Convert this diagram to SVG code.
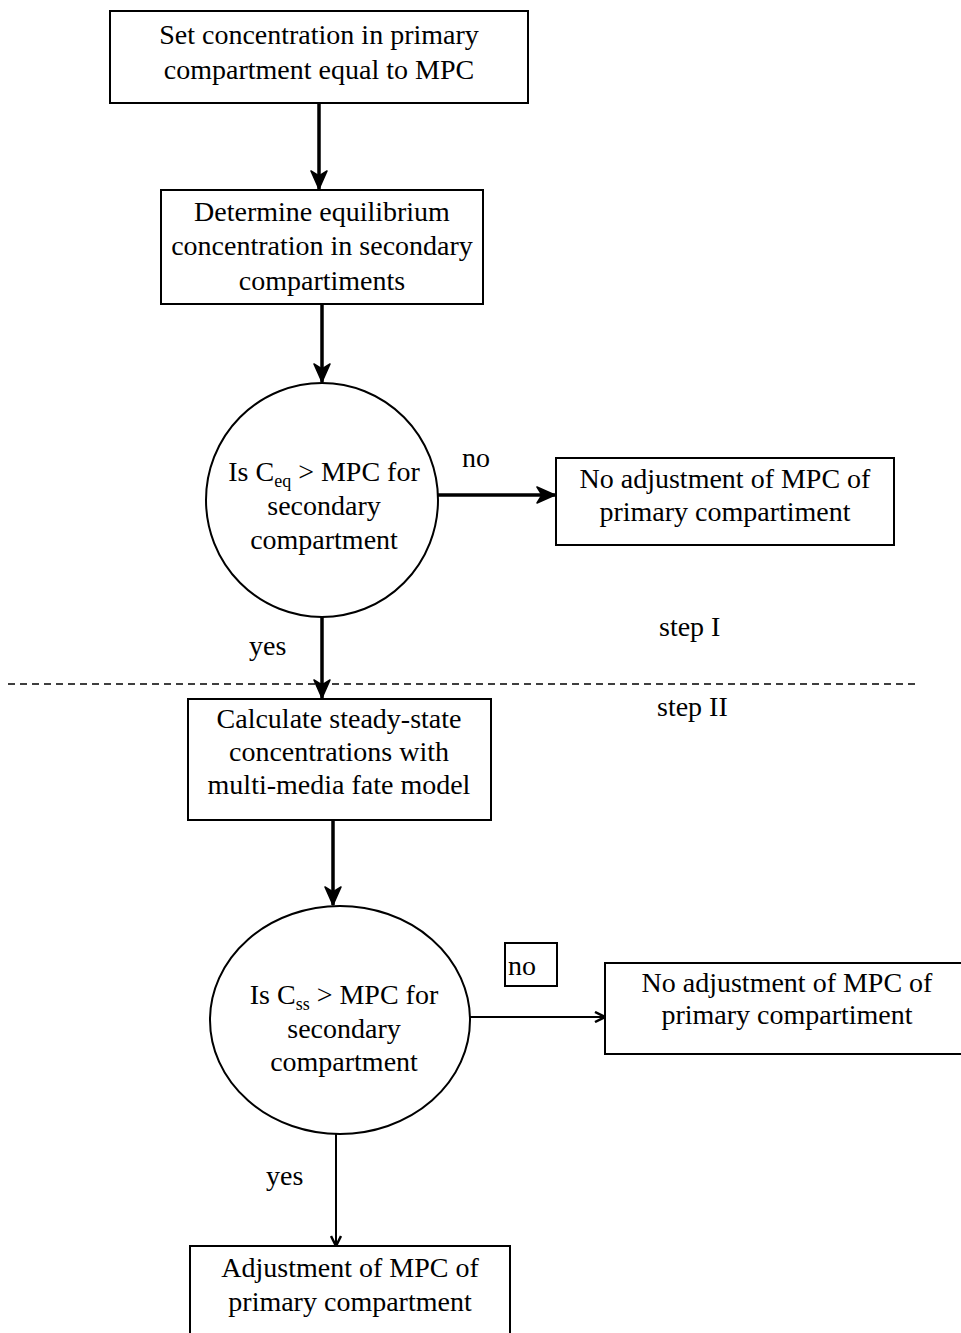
<svg xmlns="http://www.w3.org/2000/svg" width="961" height="1333" viewBox="0 0 961 1333">
<defs>
<marker id="ah" viewBox="0 0 12 12" refX="11" refY="6" markerWidth="12" markerHeight="12" markerUnits="userSpaceOnUse" orient="auto">
<path d="M1,1 L11,6 L1,11" fill="none" stroke="#000" stroke-width="2.5"/>
</marker>
<marker id="ahb" viewBox="0 0 20 20" refX="19" refY="10" markerWidth="20" markerHeight="20" markerUnits="userSpaceOnUse" orient="auto">
<path d="M1,2 L19,10 L1,18 L6,10 Z" fill="#000" stroke="#000" stroke-width="1.5" stroke-linejoin="round"/>
</marker>
</defs>
<style>
.box{fill:#fff;stroke:#000;stroke-width:2}
.t{font-family:"Liberation Serif","Times New Roman",serif;font-size:28px;fill:#000;text-anchor:middle}
.lbl{font-family:"Liberation Serif","Times New Roman",serif;font-size:28px;fill:#000}
.thick{stroke:#000;stroke-width:3.5;fill:none}
.thin{stroke:#000;stroke-width:2;fill:none}
</style>
<rect width="961" height="1333" fill="#fff"/>
<g id="connectors">
<line class="thick" x1="319" y1="103" x2="319" y2="189" marker-end="url(#ahb)"/>
<line class="thick" x1="322" y1="304" x2="322" y2="382" marker-end="url(#ahb)"/>
<line class="thick" x1="438" y1="495" x2="555" y2="495" marker-end="url(#ahb)"/>
<line class="thick" x1="322" y1="617" x2="322" y2="698" marker-end="url(#ahb)"/>
<line class="thick" x1="333" y1="820" x2="333" y2="905" marker-end="url(#ahb)"/>
<line class="thin" x1="470" y1="1017" x2="605" y2="1017" marker-end="url(#ah)"/>
<line class="thin" x1="336" y1="1134" x2="336" y2="1246" marker-end="url(#ah)"/>
<text class="lbl" x="462" y="467">no</text>
<text class="lbl" x="249" y="655">yes</text>
<text class="lbl" x="266" y="1185">yes</text>
<g id="no-box"><rect class="box" x="505" y="943" width="52" height="43" stroke-width="1.5"/><text class="lbl" x="508" y="975">no</text></g>
</g>
<line x1="8" y1="684" x2="918" y2="684" stroke="#000" stroke-width="1.5" stroke-dasharray="7,5"/>
<text class="lbl" x="659" y="636">step I</text>
<text class="lbl" x="657" y="716">step II</text>
<g id="n1"><rect class="box" x="110" y="11" width="418" height="92"/>
<text class="t" x="319" y="44">Set concentration in primary</text>
<text class="t" x="319" y="79">compartment equal to MPC</text></g>
<g id="n2"><rect class="box" x="161" y="190" width="322" height="114"/>
<text class="t" x="322" y="221">Determine equilibrium</text>
<text class="t" x="322" y="255">concentration in secondary</text>
<text class="t" x="322" y="290">compartiments</text></g>
<g id="n3"><ellipse class="box" cx="322" cy="500" rx="116" ry="117"/>
<text class="t" x="324" y="481">Is C<tspan font-size="18" dy="6">eq</tspan><tspan dy="-6"> &gt; MPC for</tspan></text>
<text class="t" x="324" y="515">secondary</text>
<text class="t" x="324" y="549">compartment</text></g>
<g id="n4"><rect class="box" x="556" y="458" width="338" height="87"/>
<text class="t" x="725" y="488">No adjustment of MPC of</text>
<text class="t" x="725" y="521">primary compartiment</text></g>
<g id="n5"><rect class="box" x="188" y="699" width="303" height="121"/>
<text class="t" x="339" y="728">Calculate steady-state</text>
<text class="t" x="339" y="761">concentrations with</text>
<text class="t" x="339" y="794">multi-media fate model</text></g>
<g id="n6"><ellipse class="box" cx="340" cy="1020" rx="130" ry="114"/>
<text class="t" x="344" y="1004">Is C<tspan font-size="18" dy="6">ss</tspan><tspan dy="-6"> &gt; MPC for</tspan></text>
<text class="t" x="344" y="1038">secondary</text>
<text class="t" x="344" y="1071">compartment</text></g>
<g id="n7"><rect class="box" x="605" y="963" width="360" height="91"/>
<text class="t" x="787" y="992">No adjustment of MPC of</text>
<text class="t" x="787" y="1024">primary compartiment</text></g>
<g id="n8"><rect class="box" x="190" y="1246" width="320" height="90"/>
<text class="t" x="350" y="1277">Adjustment of MPC of</text>
<text class="t" x="350" y="1311">primary compartment</text></g>
</svg>
